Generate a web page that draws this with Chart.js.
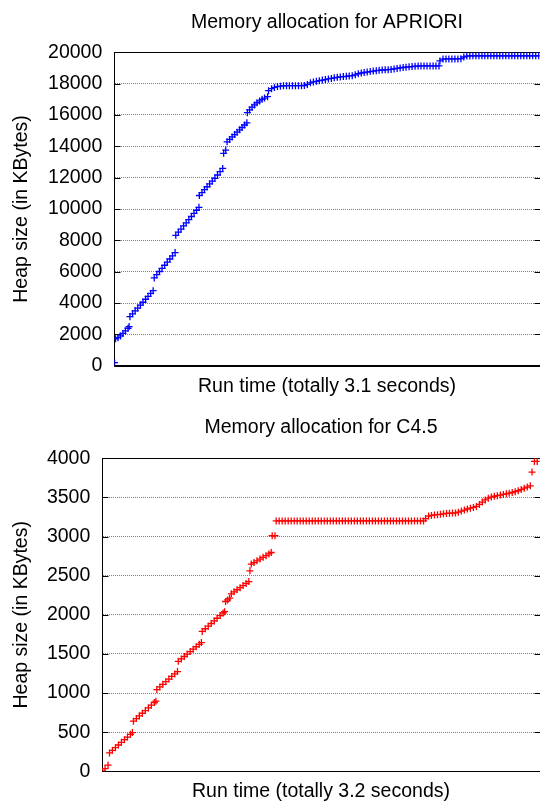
<!DOCTYPE html>
<html>
<head>
<meta charset="utf-8">
<script src="https://cdn.jsdelivr.net/npm/chart.js"></script>
<style>
  html, body { margin: 0; padding: 0; background: #fff; overflow: hidden; }
  .box { position: absolute; left: 0; width: 545px; }
  #topBox { top: 0; height: 400px; }
  #bottomBox { top: 400px; height: 406px; }
</style>
</head>
<body>
<div class="box" id="topBox"><canvas id="aprioriChart"></canvas></div>
<div class="box" id="bottomBox"><canvas id="c45Chart"></canvas></div>
<script>
// APRIORI: run time (s) vs heap size (KB)
const aprioriTime = [
  0.002,
  0.009, 0.027, 0.045, 0.063, 0.081, 0.100, 0.108,
  0.114, 0.133, 0.152, 0.171, 0.190, 0.209, 0.228, 0.246, 0.265, 0.283,
  0.291, 0.310, 0.329, 0.348, 0.367, 0.386, 0.405, 0.424, 0.443,
  0.448, 0.467, 0.486, 0.505, 0.524, 0.543, 0.562, 0.581, 0.599, 0.617,
  0.620, 0.639, 0.657, 0.676, 0.695, 0.714, 0.733, 0.752, 0.771, 0.790,
  0.797, 0.812,
  0.822, 0.841, 0.859, 0.877, 0.895, 0.913, 0.931, 0.949, 0.966,
  0.970, 0.986, 1.004, 1.022, 1.040, 1.059, 1.077, 1.095, 1.117,
  1.124, 1.146, 1.167, 1.189, 1.211, 1.233, 1.255, 1.276, 1.298, 1.320,
  1.342, 1.364, 1.385, 1.407, 1.429, 1.451, 1.473, 1.494, 1.516, 1.538,
  1.560, 1.582, 1.603, 1.625, 1.647, 1.669, 1.691, 1.712, 1.734, 1.756,
  1.778, 1.800, 1.821, 1.843, 1.865, 1.887, 1.909, 1.930, 1.952, 1.974,
  1.996, 2.017, 2.039, 2.061, 2.083, 2.105, 2.126, 2.148, 2.170, 2.192,
  2.214, 2.235, 2.257, 2.279, 2.301, 2.323, 2.344, 2.366,
  2.373, 2.395, 2.417, 2.438, 2.460, 2.482, 2.504, 2.526, 2.547, 2.569,
  2.591, 2.613, 2.635, 2.657, 2.679, 2.700, 2.722, 2.744, 2.766, 2.788,
  2.809, 2.831, 2.853, 2.875, 2.897, 2.918, 2.940, 2.962, 2.984, 3.006,
  3.027, 3.049, 3.071, 3.093
];
const aprioriHeap = [
  190,
  1720, 1790, 1900, 2060, 2220, 2390, 2500,
  3130, 3310, 3500, 3680, 3870, 4050, 4240, 4420, 4610, 4790,
  5600, 5810, 6010, 6210, 6410, 6610, 6810, 7010, 7220,
  8320, 8520, 8720, 8920, 9120, 9320, 9520, 9720, 9920, 10110,
  10860, 11050, 11240, 11420, 11600, 11780, 11960, 12170, 12380, 12590,
  13550, 13760,
  14290, 14440, 14600, 14750, 14900, 15050, 15200, 15360, 15500,
  16150, 16330, 16500, 16640, 16780, 16900, 17000, 17080, 17170,
  17550, 17680, 17760, 17810, 17840, 17860, 17870, 17870, 17870, 17870,
  17870, 17870, 17880, 17950, 18050, 18110, 18150, 18190, 18230, 18260,
  18300, 18330, 18370, 18400, 18430, 18450, 18470, 18490, 18510, 18560,
  18630, 18680, 18710, 18740, 18770, 18800, 18830, 18850, 18870, 18880,
  18890, 18910, 18940, 18970, 19000, 19030, 19050, 19070, 19090, 19110,
  19120, 19130, 19130, 19130, 19130, 19130, 19130, 19130,
  19450, 19570, 19580, 19580, 19580, 19580, 19580, 19590, 19700, 19760,
  19770, 19780, 19780, 19780, 19780, 19780, 19780, 19780, 19780, 19780,
  19780, 19780, 19780, 19780, 19780, 19780, 19780, 19780, 19780, 19780,
  19780, 19780, 19780, 19780
];
const aprioriTicks = [0, 2000, 4000, 6000, 8000, 10000, 12000, 14000, 16000, 18000, 20000];

// C4.5: run time (s) vs heap size (KB)
const c45Time = [
  0.001, 0.020, 0.042,
  0.053, 0.074, 0.096, 0.118, 0.140, 0.162, 0.184, 0.206, 0.220,
  0.228, 0.249, 0.271, 0.293, 0.315, 0.337, 0.359, 0.381, 0.392,
  0.399, 0.421, 0.443, 0.465, 0.487, 0.508, 0.530, 0.550,
  0.556, 0.578, 0.600, 0.621, 0.643, 0.665, 0.687, 0.709, 0.725,
  0.731, 0.753, 0.775, 0.797, 0.819, 0.840, 0.862, 0.884, 0.895,
  0.902, 0.917, 0.932,
  0.944, 0.964, 0.986, 1.008, 1.030, 1.052, 1.072,
  1.080,
  1.090, 1.110, 1.132, 1.154, 1.176, 1.198, 1.219, 1.236,
  1.243, 1.263,
  1.272, 1.294, 1.316, 1.338, 1.360, 1.382, 1.404, 1.426, 1.448, 1.470,
  1.492, 1.514, 1.536, 1.558, 1.580, 1.602, 1.624, 1.646, 1.668, 1.690,
  1.712, 1.734, 1.756, 1.778, 1.800, 1.822, 1.844, 1.866, 1.888, 1.910,
  1.932, 1.954, 1.976, 1.998, 2.020, 2.042, 2.064, 2.086, 2.108, 2.130,
  2.152, 2.174, 2.196, 2.218, 2.240, 2.262, 2.284, 2.306, 2.328, 2.350,
  2.365, 2.387, 2.408, 2.430, 2.452, 2.474, 2.496, 2.518, 2.540, 2.562,
  2.584, 2.605, 2.627, 2.649, 2.671, 2.693, 2.715, 2.737, 2.759, 2.780,
  2.802, 2.824, 2.846, 2.868, 2.890, 2.912, 2.934, 2.956, 2.977, 2.999,
  3.021, 3.043, 3.065, 3.087, 3.109, 3.131,
  3.144, 3.161, 3.182
];
const c45Heap = [
  5, 35, 80,
  235, 268, 302, 336, 370, 404, 438, 472, 495,
  640, 674, 708, 742, 776, 810, 845, 879, 896,
  1045, 1078, 1112, 1145, 1178, 1212, 1245, 1275,
  1405, 1436, 1467, 1498, 1530, 1561, 1592, 1623, 1645,
  1788, 1822, 1855, 1889, 1922, 1956, 1990, 2023, 2040,
  2170, 2190, 2213,
  2268, 2293, 2320, 2347, 2373, 2400, 2425,
  2562,
  2648, 2668, 2690, 2712, 2734, 2756, 2778, 2796,
  3010, 3010,
  3200, 3200, 3200, 3200, 3200, 3200, 3200, 3200, 3200, 3200,
  3200, 3200, 3200, 3200, 3200, 3200, 3200, 3200, 3200, 3200,
  3200, 3200, 3200, 3200, 3200, 3200, 3200, 3200, 3200, 3200,
  3200, 3200, 3200, 3200, 3200, 3200, 3200, 3200, 3200, 3200,
  3200, 3200, 3200, 3200, 3200, 3200, 3200, 3200, 3200, 3200,
  3230, 3262, 3270, 3276, 3280, 3284, 3290, 3295, 3298, 3300,
  3302, 3312, 3325, 3338, 3352, 3362, 3372, 3385, 3410, 3440,
  3468, 3490, 3505, 3515, 3522, 3530, 3538, 3546, 3554, 3563,
  3574, 3585, 3600, 3618, 3632, 3648,
  3824, 3960, 3960
];
const c45Ticks = [0, 500, 1000, 1500, 2000, 2500, 3000, 3500, 4000];

const FONT = "'Liberation Sans', Arial, sans-serif";

// gnuplot-style box with inward ticks on both sides
const framePlugin = {
  id: 'frame',
  beforeDatasetsDraw(chart) {
    const { ctx, chartArea: a, scales: { y } } = chart;
    const l = Math.round(a.left) + 0.5, r = Math.round(a.right) + 0.5;
    const t = Math.round(a.top) + 0.5, b = Math.round(a.bottom) + 0.5;
    ctx.save();
    ctx.strokeStyle = '#000';
    ctx.lineWidth = 1;
    ctx.beginPath();
    y.ticks.forEach(tk => {
      const py = Math.round(y.getPixelForValue(tk.value)) + 0.5;
      ctx.moveTo(l, py); ctx.lineTo(l + 6, py);
      ctx.moveTo(r, py); ctx.lineTo(r - 6, py);
    });
    ctx.rect(l, t, r - l, b - t);
    ctx.stroke();
    ctx.restore();
  }
};

function makeChart(id, o) {
  const points = o.time.map((t, i) => ({ x: t, y: o.heap[i] }));
  return new Chart(document.getElementById(id), {
    type: 'scatter',
    data: {
      datasets: [{
        data: points,
        pointStyle: 'cross',
        pointRadius: 3.5,
        pointBorderWidth: 1.3,
        borderColor: o.color,
        backgroundColor: o.color
      }]
    },
    options: {
      responsive: true,
      maintainAspectRatio: false,
      animation: false,
      layout: { padding: { left: 0, right: 4, top: 0, bottom: 0 } },
      plugins: {
        legend: { display: false },
        tooltip: { enabled: false },
        title: {
          display: true,
          text: o.title,
          fullSize: false,
          color: '#000',
          font: { family: FONT, size: 19.5, weight: 'normal', lineHeight: 1.2 },
          padding: o.titlePad
        }
      },
      scales: {
        x: {
          type: 'linear',
          min: 0,
          max: o.xMax,
          grid: { display: false },
          border: { display: true, color: '#000' },
          ticks: { display: false },
          title: {
            display: true,
            text: o.xTitle,
            color: '#000',
            font: { family: FONT, size: 19.5, lineHeight: 1.2 },
            padding: { top: 0, bottom: o.xTitlePad }
          },
          afterFit(scale) { scale.height = o.xHeight; }
        },
        y: {
          min: 0,
          max: o.yMax,
          afterBuildTicks(scale) { scale.ticks = o.ticks.map(v => ({ value: v })); },
          grid: { color: '#808080', lineWidth: 1, drawTicks: false, tickLength: 0 },
          border: { display: true, color: '#000', dash: [1, 1] },
          ticks: {
            color: '#000',
            padding: 12,
            font: { family: FONT, size: 19.5 },
            callback: v => String(v)
          },
          title: {
            display: true,
            text: 'Heap size (in KBytes)',
            color: '#000',
            font: { family: FONT, size: 19.5, lineHeight: 1.2 },
            padding: { top: 10, bottom: 0 }
          },
          afterFit(scale) { scale.width = o.yWidth; }
        }
      }
    },
    plugins: [framePlugin]
  });
}

makeChart('aprioriChart', {
  time: aprioriTime, heap: aprioriHeap, ticks: aprioriTicks,
  color: '#0000ff', yMax: 20000, xMax: 3.1,
  title: 'Memory allocation for APRIORI',
  xTitle: 'Run time (totally 3.1 seconds)',
  titlePad: { top: 11, bottom: 17.9 },
  xHeight: 34.3, xTitlePad: 1.6, yWidth: 114.3
});

makeChart('c45Chart', {
  time: c45Time, heap: c45Heap, ticks: c45Ticks,
  color: '#ff0000', yMax: 4000, xMax: 3.2,
  title: 'Memory allocation for C4.5',
  xTitle: 'Run time (totally 3.2 seconds)',
  titlePad: { top: 16, bottom: 18.9 },
  xHeight: 34.7, xTitlePad: 2.6, yWidth: 102.3
});
</script>
</body>
</html>
